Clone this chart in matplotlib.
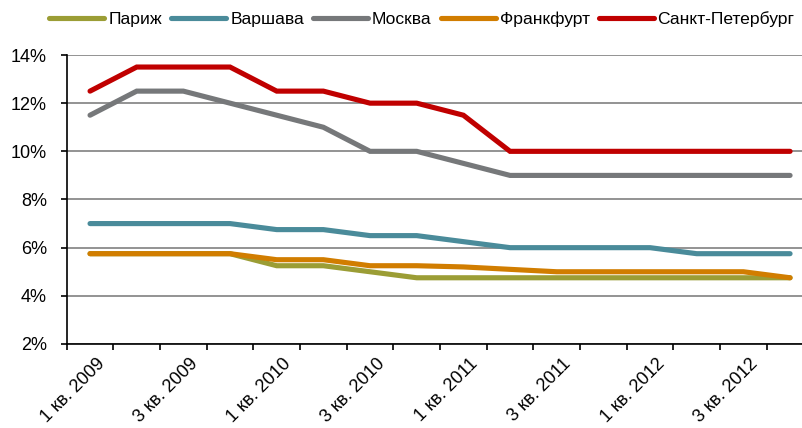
import matplotlib
matplotlib.use("Agg")
import matplotlib.pyplot as plt
from matplotlib.ticker import FixedLocator, FuncFormatter
import matplotlib.transforms as mtransforms
import numpy as np

plt.rcParams['font.family'] = ['Liberation Sans', 'DejaVu Sans']
fs = 13
lfs = 12.6

quarters = ["1 кв. 2009", "2 кв. 2009", "3 кв. 2009", "4 кв. 2009",
            "1 кв. 2010", "2 кв. 2010", "3 кв. 2010", "4 кв. 2010",
            "1 кв. 2011", "2 кв. 2011", "3 кв. 2011", "4 кв. 2011",
            "1 кв. 2012", "2 кв. 2012", "3 кв. 2012", "4 кв. 2012"]

paris = [5.75, 5.75, 5.75, 5.75, 5.25, 5.25, 5.0, 4.75, 4.75, 4.75, 4.75, 4.75, 4.75, 4.75, 4.75, 4.75]
warsaw = [7.0, 7.0, 7.0, 7.0, 6.75, 6.75, 6.5, 6.5, 6.25, 6.0, 6.0, 6.0, 6.0, 5.75, 5.75, 5.75]
moscow = [11.5, 12.5, 12.5, 12.0, 11.5, 11.0, 10.0, 10.0, 9.5, 9.0, 9.0, 9.0, 9.0, 9.0, 9.0, 9.0]
frankfurt = [5.75, 5.75, 5.75, 5.75, 5.5, 5.5, 5.25, 5.25, 5.2, 5.1, 5.0, 5.0, 5.0, 5.0, 5.0, 4.75]
spb = [12.5, 13.5, 13.5, 13.5, 12.5, 12.5, 12.0, 12.0, 11.5, 10.0, 10.0, 10.0, 10.0, 10.0, 10.0, 10.0]

series_names = ["Париж", "Варшава", "Москва", "Франкфурт", "Санкт-Петербург"]
series_values = [paris, warsaw, moscow, frankfurt, spb]
colors = ["#9b9d35", "#4a8b9a", "#76787a", "#d17d00", "#c00000"]

y_ticks = [2, 4, 6, 8, 10, 12, 14]

W, H = 802, 428
fig = plt.figure(figsize=(W / 100, H / 100), dpi=100)
left_px, right_px, top_px, bot_px = 66.7, 813.4, 55.0, 344.0
ax = fig.add_axes([left_px / W, 1 - bot_px / H, (right_px - left_px) / W, (bot_px - top_px) / H])

x = np.arange(len(quarters))
for name, vals, c in zip(series_names, series_values, colors):
    ax.plot(x, vals, color=c, lw=3.7, solid_capstyle='round', solid_joinstyle='miter', label=name, zorder=3)

ax.set_xlim(-0.5, len(quarters) - 0.5)
ax.set_ylim(2, 14)
ax.set_yticks(y_ticks)
ax.yaxis.set_major_formatter(FuncFormatter(lambda v, p: f"{int(v)}%"))
ax.grid(axis='y', color='#808080', lw=1.2, zorder=1)
ax.set_axisbelow(True)

for s in ['top', 'right']:
    ax.spines[s].set_visible(False)
for s in ['left', 'bottom']:
    ax.spines[s].set_color('black')
    ax.spines[s].set_linewidth(1.2)
    ax.spines[s].set_zorder(4)

ax.tick_params(axis='y', length=4.3, width=1.2, color='black', labelsize=fs, pad=10, direction='out')

ax.xaxis.set_major_locator(FixedLocator(np.arange(len(quarters) + 1) - 0.5))
ax.xaxis.set_major_formatter(FuncFormatter(lambda v, p: ""))
ax.tick_params(axis='x', which='major', length=4, width=1.2, color='black', direction='out')
label_pos = x[::2]
ax.xaxis.set_minor_locator(FixedLocator(label_pos))
ax.set_xticklabels([quarters[i] for i in label_pos], minor=True)
ax.tick_params(axis='x', which='minor', length=0, labelsize=fs, pad=8)
offset = mtransforms.ScaledTranslation(6 / 100, 0, fig.dpi_scale_trans)
for lab in ax.get_xticklabels(minor=True):
    lab.set_rotation(45)
    lab.set_ha('right')
    lab.set_va('top')
    lab.set_rotation_mode('anchor')
    lab.set_transform(lab.get_transform() + offset)

em = lfs * 100 / 72
leg = fig.legend(loc='center', bbox_to_anchor=(422 / W, 1 - 19 / H), ncol=5, frameon=False,
                 fontsize=lfs, handlelength=55 / em, handletextpad=4 / em,
                 columnspacing=9 / em, borderaxespad=0, borderpad=0)

fig.savefig("out.png", dpi=100)
